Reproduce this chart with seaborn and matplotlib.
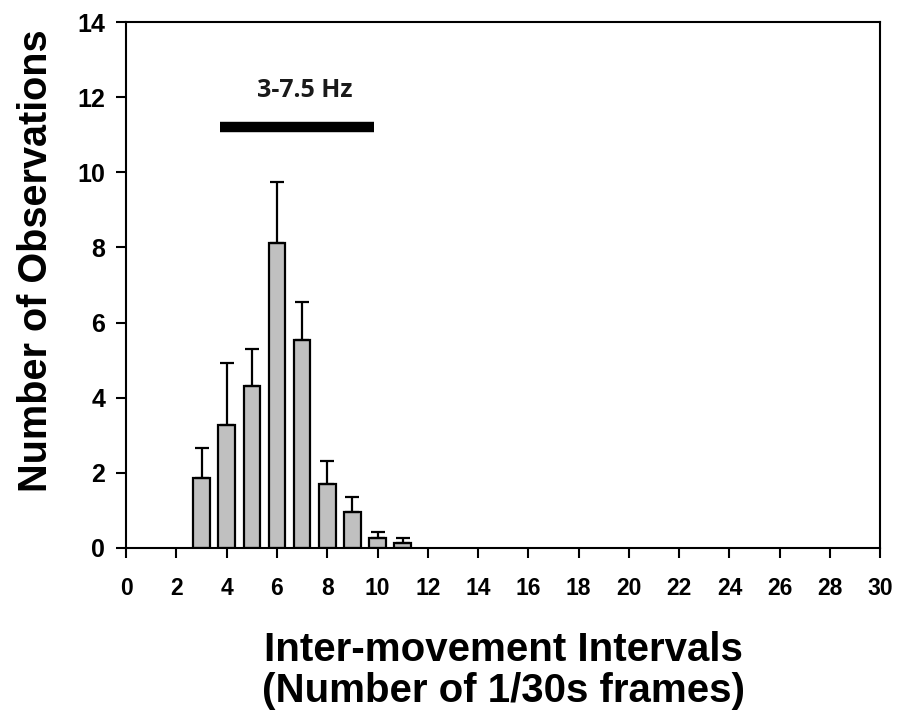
import numpy as np
import pandas as pd
import matplotlib
matplotlib.use("Agg")
import matplotlib.pyplot as plt
import seaborn as sns

# data
intervals = [3, 4, 5, 6, 7, 8, 9, 10, 11]
mean_obs = [1.85, 3.28, 4.30, 8.12, 5.54, 1.71, 0.96, 0.27, 0.12]
err_upper = [0.80, 1.63, 1.00, 1.63, 1.00, 0.61, 0.40, 0.15, 0.15]
band_start, band_end, band_y = 3.72, 9.87, 11.22
band_label = "3-7.5 Hz"

sns.set_theme(style="ticks")
plt.rcParams["font.family"] = ["Liberation Sans", "DejaVu Sans"]
plt.rcParams["text.color"] = "black"
plt.rcParams["axes.labelcolor"] = "black"

df = pd.DataFrame({"interval": intervals, "obs": mean_obs})

fig = plt.figure(figsize=(9.01, 7.17), dpi=100)
ax = fig.add_axes([0.14, 0.236, 0.837, 0.733])

sns.barplot(data=df, x="interval", y="obs", native_scale=True, width=0.66,
            color="#c0c0c0", edgecolor="black", linewidth=1.6,
            saturation=1, errorbar=None, ax=ax)
ax.errorbar(intervals, mean_obs, yerr=[np.zeros(len(err_upper)), err_upper],
            fmt="none", ecolor="black", elinewidth=1.6, capsize=5, capthick=1.6)

ax.plot([band_start, band_end], [band_y, band_y], color="black", lw=7.5,
        solid_capstyle="butt")
ax.text(7.12, 12.19, band_label,
        ha="center", va="center", fontsize=18, fontweight="bold",
        family=["Open Sans", "DejaVu Sans"], color="#1a1a1a")

ax.set_xlim(0, 30)
ax.set_ylim(0, 14)
ax.set_xticks(range(0, 31, 2))
ax.set_yticks(range(0, 15, 2))
ax.tick_params(axis="both", direction="out", length=7, width=1.5,
               colors="black")
ax.tick_params(axis="x", pad=14, labelsize=16.5)
ax.tick_params(axis="y", pad=8, labelsize=18)
for lab in ax.get_xticklabels() + ax.get_yticklabels():
    lab.set_fontweight("bold")
for sp in ax.spines.values():
    sp.set_visible(True)
    sp.set_linewidth(1.5)
    sp.set_color("black")

ax.set_xlabel("Inter-movement Intervals\n(Number of 1/30s frames)",
              fontsize=29, fontweight="bold", labelpad=22, linespacing=1.12)
ax.set_ylabel("Number of Observations", fontsize=28.5, fontweight="bold")
ax.yaxis.set_label_coords(-0.094, 0.546)

fig.savefig("out.png", dpi=100)
